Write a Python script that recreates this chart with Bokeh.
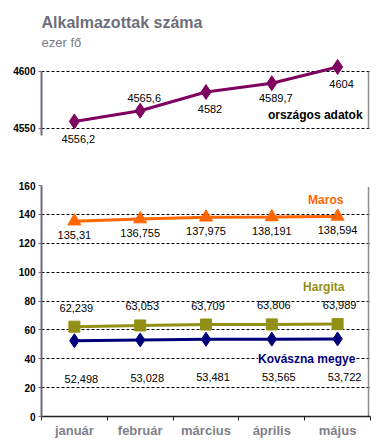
from bokeh.plotting import figure
from bokeh.models import ColumnDataSource, FixedTicker, Range1d, Label
from bokeh.layouts import column
from bokeh.embed import file_html
from bokeh.resources import INLINE
from bokeh.core.properties import value

# ---- data ----
months = ["január", "február", "március", "április", "május"]
orszagos = [4556.2, 4565.6, 4582.0, 4589.7, 4604.0]
maros = [135.31, 136.755, 137.975, 138.191, 138.594]
hargita = [62.239, 63.053, 63.709, 63.806, 63.989]
kovaszna = [52.498, 53.028, 53.481, 53.565, 53.722]
top_ticks = [4550, 4600]
bottom_ticks = [0, 20, 40, 60, 80, 100, 120, 140, 160]

def fmt(v):
    return f"{v:g}".replace(".", ",")

xs = list(range(len(months)))
FONT = "Liberation Sans"
AXIS_COL = "#6c6c80"
PURPLE = "#800060"
ORANGE = "#FF6600"
OLIVE = "#929014"
NAVY = "#00007a"


def style(p):
    p.outline_line_color = None
    p.background_fill_color = "white"
    p.border_fill_color = "white"
    p.xgrid.visible = False
    p.yaxis.axis_line_color = AXIS_COL
    p.yaxis.axis_line_width = 2
    p.yaxis.major_tick_line_color = AXIS_COL
    p.yaxis.major_tick_out = 3
    p.yaxis.major_tick_in = 0
    p.yaxis.minor_tick_line_color = None
    p.yaxis.major_label_text_font = FONT
    p.yaxis.major_label_text_font_size = "10px"
    p.yaxis.major_label_text_font_style = "bold"
    p.yaxis.major_label_text_color = "black"
    p.yaxis.major_label_standoff = 3
    p.ygrid.grid_line_color = "black"
    p.ygrid.grid_line_dash = "3 2"
    p.ygrid.grid_line_width = 1


# ---- top chart ----
p1 = figure(frame_width=329, frame_height=141, x_range=Range1d(-0.5, 4.5),
            y_range=Range1d(4534.2, 4657.9), output_backend="svg",
            toolbar_location=None, title=None,
            min_border_left=41, min_border_right=15, min_border_bottom=4, min_border_top=5)
style(p1)
p1.xaxis.visible = False
p1.yaxis.ticker = FixedTicker(ticks=top_ticks)
p1.yaxis.bounds = (4543.5, 4600)
p1.ygrid.ticker = FixedTicker(ticks=top_ticks)

p1.add_layout(Label(x=-0.5, y=4643, x_offset=0, text="Alkalmazottak száma", text_align="left",
                    text_baseline="middle", text_font=FONT, text_font_size="16px",
                    text_font_style="bold", text_color="#6d6e7a"))
p1.add_layout(Label(x=-0.5, y=4625.4, x_offset=0, text="ezer fő", text_align="left",
                    text_baseline="middle", text_font=FONT, text_font_size="13px",
                    text_font_style="normal", text_color="#7a7a86"))

p1.segment(x0=[4.47], y0=[top_ticks[0]], x1=[4.47], y1=[top_ticks[1]], line_color="#8c8c8c", line_width=1.5)
p1.line(xs, orszagos, line_color=PURPLE, line_width=3)
p1.scatter(xs, orszagos, marker="diamond", size=15, color=PURPLE)
top_dy = [18, -13, 17, 15, 17]
src1 = ColumnDataSource(dict(x=xs, y=orszagos, t=[fmt(v) for v in orszagos], dy=top_dy))
p1.text(x="x", y="y", text="t", source=src1, x_offset=4, y_offset="dy",
        text_align="center", text_baseline="middle", text_font=value(FONT),
        text_font_size="11px", text_color="black")
p1.add_layout(Label(x=3.66, y=4561.4, text="országos adatok", text_align="center",
                    text_baseline="middle", text_font=FONT, text_font_size="12px",
                    text_font_style="bold", text_color="black"))

# ---- bottom chart ----
p2 = figure(frame_width=329, frame_height=231, x_range=Range1d(-0.5, 4.5),
            y_range=Range1d(0, 160), output_backend="svg",
            toolbar_location=None, title=None,
            min_border_left=41, min_border_right=15, min_border_bottom=21, min_border_top=35)
style(p2)
p2.yaxis.ticker = FixedTicker(ticks=bottom_ticks)
p2.ygrid.ticker = FixedTicker(ticks=bottom_ticks[1:-1])
p2.xaxis.ticker = FixedTicker(ticks=xs, minor_ticks=[i - 0.5 for i in range(len(months) + 1)])
p2.xaxis.major_label_overrides = {i: m for i, m in enumerate(months)}
p2.xaxis.major_tick_line_color = None
p2.xaxis.major_tick_out = 0
p2.xaxis.major_tick_in = 0
p2.xaxis.minor_tick_line_color = "#222222"
p2.xaxis.minor_tick_out = 4
p2.xaxis.minor_tick_in = 0
p2.xaxis.axis_line_color = "#222222"
p2.xaxis.axis_line_width = 1.5
p2.xaxis.major_label_standoff = 2
p2.xaxis.major_label_text_font = FONT
p2.xaxis.major_label_text_font_size = "13px"
p2.xaxis.major_label_text_font_style = "bold"
p2.xaxis.major_label_text_color = "#7f7f8c"

p2.segment(x0=[4.47], y0=[0], x1=[4.47], y1=[159], line_color="#8c8c8c", line_width=1.5)

series = [
    (maros, ORANGE, "triangle", 13, 14, 0),
    (hargita, OLIVE, "square", 11, -19, 2),
    (kovaszna, NAVY, "diamond", 14, 38, 7),
]
for vals, col, mk, sz, dy, dx in series:
    p2.line(xs, vals, line_color=col, line_width=3)
    p2.scatter(xs, vals, marker=mk, size=sz, color=col)
    src = ColumnDataSource(dict(x=xs, y=vals, t=[fmt(v) for v in vals]))
    p2.text(x="x", y="y", text="t", source=src, x_offset=dx, y_offset=dy,
            text_align="center", text_baseline="middle", text_font=value(FONT),
            text_font_size="11px", text_color="black")

p2.add_layout(Label(x=3.82, y=150.3, text="Maros", text_align="center", text_baseline="middle",
                    text_font=FONT, text_font_size="12px", text_font_style="bold", text_color=ORANGE))
p2.add_layout(Label(x=3.79, y=90, text="Hargita", text_align="center", text_baseline="middle",
                    text_font=FONT, text_font_size="12px", text_font_style="bold", text_color=OLIVE))
p2.add_layout(Label(x=3.53, y=39.5, text="Kovászna megye", text_align="center", text_baseline="middle",
                    text_font=FONT, text_font_size="12px", text_font_style="bold", text_color=NAVY,
                    background_fill_color="white"))

layout = column(p1, p2)
open("out.html", "w").write(file_html(layout, INLINE))
